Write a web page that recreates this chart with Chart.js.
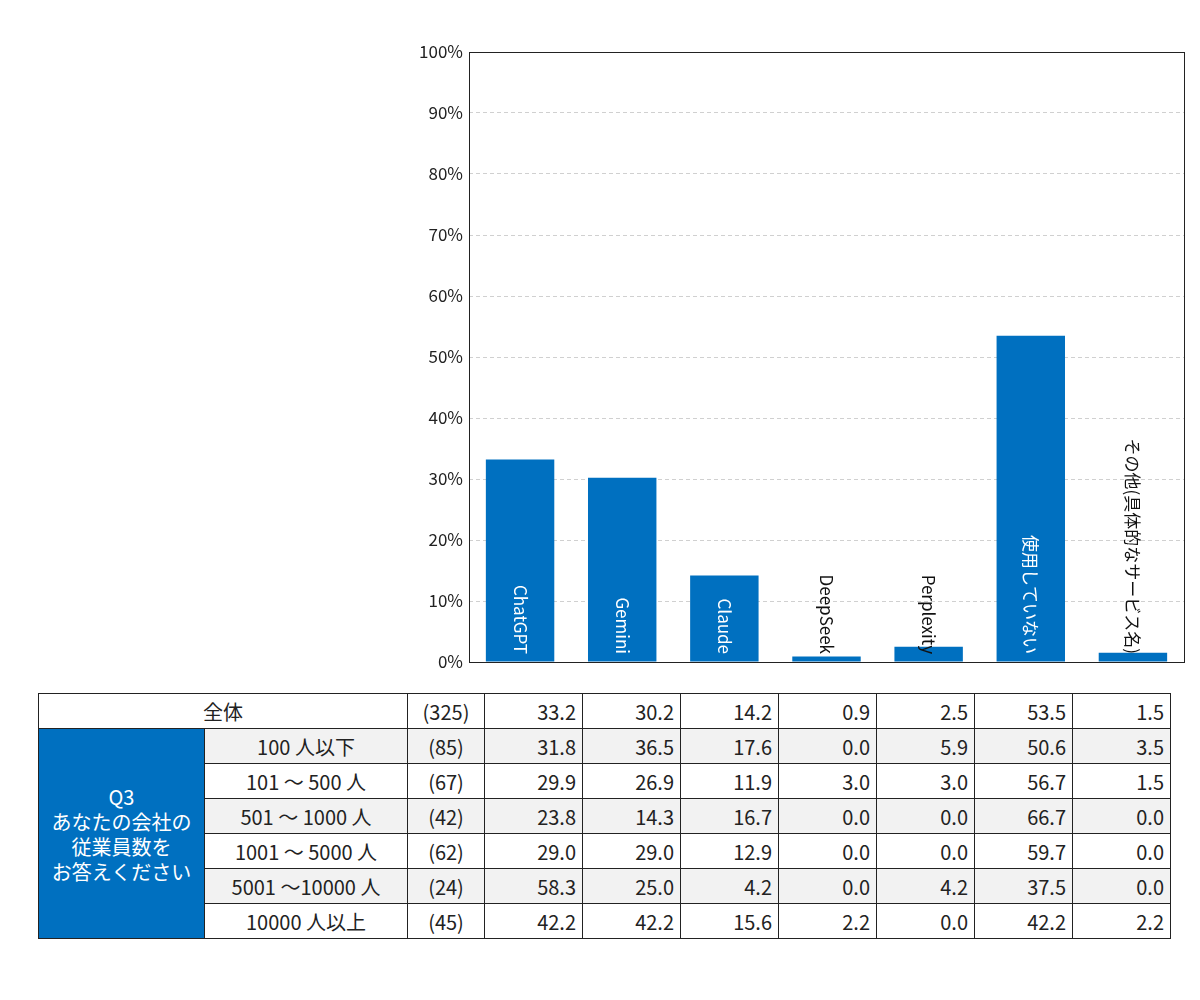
<!DOCTYPE html>
<html><head><meta charset="utf-8">
<script src="https://cdn.jsdelivr.net/npm/chart.js@4/dist/chart.umd.min.js"></script>
<style>
body{margin:0;background:#fff;font-family:"Noto Sans CJK JP","Noto Sans",sans-serif;}
#wrap{position:absolute;left:0;top:0;width:1200px;height:680px;}
table{position:absolute;left:38px;top:693px;border-collapse:collapse;font-size:20px;color:#222;}
td{border:1px solid #222;height:34px;padding:0 6px;text-align:right;white-space:nowrap;}
td.c{text-align:center;}
tr.g td.s{background:#f2f2f2;}
td.q{background:#0070c0;color:#fff;text-align:center;line-height:25px;font-size:20px;}
</style></head><body>
<div id="wrap"><canvas id="c"></canvas></div>
<table id="t"></table>
<script>
const categories=["ChatGPT","Gemini","Claude","DeepSeek","Perplexity","使用していない","その他(具体的なサービス名)"];
const totalValues=[33.2,30.2,14.2,0.9,2.5,53.5,1.5];
const yTicks=[0,10,20,30,40,50,60,70,80,90,100];
const rowLabels=["100 人以下","101 ～ 500 人","501 ～ 1000 人","1001 ～ 5000 人","5001 ～10000 人","10000 人以上"];
const rowN=[85,67,42,62,24,45];
const rowValues=[
[31.8,36.5,17.6,0.0,5.9,50.6,3.5],
[29.9,26.9,11.9,3.0,3.0,56.7,1.5],
[23.8,14.3,16.7,0.0,0.0,66.7,0.0],
[29.0,29.0,12.9,0.0,0.0,59.7,0.0],
[58.3,25.0,4.2,0.0,4.2,37.5,0.0],
[42.2,42.2,15.6,2.2,0.0,42.2,2.2]];
const totalN=325;
const groupLabel="Q3<br>あなたの会社の<br>従業員数を<br>お答えください";

// table
const t=document.getElementById('t');
const colW=[153,190,64,85,85,85,84,85,85,84];
let h='<tr><td class="c" colspan="2" style="width:355px">全体</td><td class="c" style="width:64px">('+totalN+')</td>'+totalValues.map(v=>'<td style="width:85px">'+v.toFixed(1)+'</td>').join('')+'</tr>';
rowLabels.forEach((l,i)=>{
 h+='<tr class="'+(i%2==0?'g':'')+'">'+(i==0?'<td class="q" rowspan="6" style="width:153px">'+groupLabel+'</td>':'')+
 '<td class="c s" style="width:190px">'+l+'</td><td class="c s">('+rowN[i]+')</td>'+rowValues[i].map(v=>'<td class="s">'+v.toFixed(1)+'</td>').join('')+'</tr>';
});
t.innerHTML=h;

const labelPlugin={id:'lbl',afterDatasetsDraw(ch){
 const ctx=ch.ctx,a=ch.chartArea,meta=ch.getDatasetMeta(0);
 ctx.save();
 ctx.strokeStyle='#222';ctx.lineWidth=1;ctx.strokeRect(a.left+0.5,a.top+0.5,a.right-a.left,a.bottom-a.top);
 ctx.font='17px "Noto Sans CJK JP"';
 meta.data.forEach((b,i)=>{
  const txt=categories[i];
  const w=ctx.measureText(txt).width;
  const inside=(b.base-b.y)>w+15;
  ctx.save();
  ctx.translate(b.x,a.bottom-8);
  ctx.rotate(Math.PI/2);
  ctx.fillStyle=inside?'#fff':'#111';
  ctx.textAlign='right';ctx.textBaseline='middle';
  ctx.fillText(txt,0,0);
  ctx.restore();
 });
 ctx.restore();
}};

new Chart(document.getElementById('c'),{
 type:'bar',
 data:{labels:categories,datasets:[{data:totalValues,backgroundColor:'#0070c0',barPercentage:0.67,categoryPercentage:1}]},
 options:{responsive:true,maintainAspectRatio:false,animation:false,
  layout:{padding:{top:52,right:16,bottom:10,left:0}},
  plugins:{legend:{display:false},tooltip:{enabled:false}},
  scales:{
   x:{ticks:{display:false},grid:{display:false},border:{display:false}},
   y:{min:0,max:100,afterFit(s){s.width=469;},
      afterBuildTicks(s){s.ticks=yTicks.map(v=>({value:v}));},
      ticks:{callback:v=>v+'%',color:'#222',font:{size:17,family:'"Noto Sans CJK JP"'},padding:6},
      grid:{color:'#d0d0d0',drawTicks:false},border:{display:false,dash:[4,3]}}
  }},
 plugins:[labelPlugin]
});
</script></body></html>
